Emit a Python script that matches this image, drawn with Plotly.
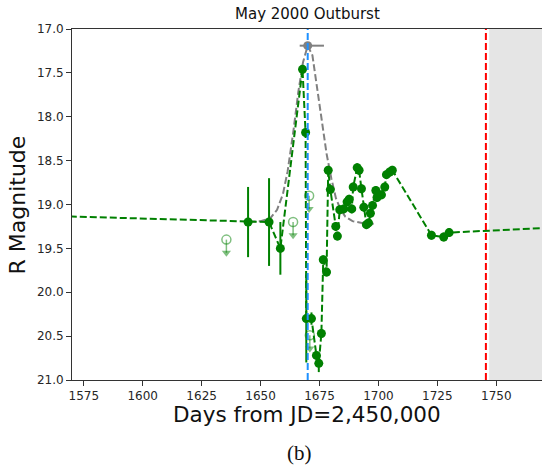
import plotly.graph_objects as go

# ---- data ----
obs_days = [1480.0, 1644.7, 1653.6, 1658.4, 1667.8, 1669.1, 1669.4, 1671.6, 1673.7, 1674.7,
            1675.8, 1676.6, 1678.0, 1678.7, 1679.6, 1681.9, 1682.6, 1683.6, 1685.3, 1686.7,
            1687.6, 1688.7, 1689.3, 1691.0, 1691.8, 1692.8, 1693.8, 1694.9, 1695.8, 1696.6,
            1697.5, 1698.9, 1699.4, 1701.3, 1702.7, 1703.4, 1704.8, 1705.9, 1722.5, 1727.7,
            1730.0, 1800.0]
obs_mags = [19.07, 19.20, 19.20, 19.50, 17.46, 18.18, 20.30, 20.30, 20.72, 20.81,
            20.47, 19.63, 19.77, 18.61, 18.83, 19.25, 19.36, 19.06, 19.05, 18.97,
            18.94, 19.05, 18.80, 18.58, 18.61, 18.82, 19.03, 19.23, 19.21, 19.10,
            19.01, 18.84, 18.92, 18.89, 18.80, 18.66, 18.63, 18.61, 19.35, 19.37,
            19.32, 19.23]
obs_errs = [0.05, 0.40, 0.50, 0.30, 0.05, 0.05, 0.50, 0.07, 0.05, 0.10,
            0.05, 0.05, 0.05, 0.05, 0.05, 0.05, 0.05, 0.05, 0.05, 0.05,
            0.05, 0.05, 0.05, 0.05, 0.05, 0.05, 0.05, 0.05, 0.05, 0.05,
            0.05, 0.05, 0.05, 0.05, 0.05, 0.05, 0.05, 0.05, 0.05, 0.05,
            0.05, 0.05]

ul_days = [1635.5, 1663.8, 1670.6, 1670.9]
ul_mags = [19.40, 19.20, 18.90, 20.49]

model_days = [1645.0, 1650.0, 1654.0, 1657.0, 1659.5, 1661.5, 1664.0, 1666.0, 1668.0, 1670.0,
              1672.0, 1674.0, 1676.0, 1678.0, 1680.0, 1682.0, 1684.0, 1686.0, 1689.0, 1693.0,
              1698.0]
model_mags = [19.20, 19.19, 19.16, 19.06, 18.88, 18.62, 18.15, 17.72, 17.38, 17.19,
              17.30, 17.68, 18.08, 18.42, 18.70, 18.93, 19.06, 19.14, 19.19, 19.21,
              19.22]

peak_day = [1670.0]
peak_mag = [17.19]
peak_err_minus = [3.4]
peak_err_plus = [6.9]

outburst_day = 1670.0
limit_day = 1745.6
shade_start = 1747.0

x_ticks = [1575, 1600, 1625, 1650, 1675, 1700, 1725, 1750]
y_ticks = [17.0, 17.5, 18.0, 18.5, 19.0, 19.5, 20.0, 20.5, 21.0]

ARROW = 0.15
GREEN = "#008000"
LGREEN = "rgba(0,128,0,0.5)"

fig = go.Figure()

# model curve
fig.add_trace(go.Scatter(x=model_days, y=model_mags, mode="lines",
                         line=dict(color="#808080", width=2, dash="7px,3px"),
                         showlegend=False, hoverinfo="skip"))

# observations
fig.add_trace(go.Scatter(x=obs_days, y=obs_mags, mode="lines+markers",
                         line=dict(color=GREEN, width=2, dash="7px,3px"),
                         marker=dict(color=GREEN, size=9),
                         error_y=dict(type="data", array=obs_errs, color=GREEN,
                                      thickness=2, width=0),
                         showlegend=False))

# upper limits
fig.add_trace(go.Scatter(x=ul_days, y=ul_mags, mode="markers",
                         marker=dict(symbol="circle-open", color=LGREEN, size=9,
                                     line=dict(width=1.5)),
                         error_y=dict(type="data", array=[ARROW] * len(ul_days),
                                      arrayminus=[0] * len(ul_days), color=LGREEN,
                                      thickness=1.5, width=0),
                         showlegend=False))
fig.add_trace(go.Scatter(x=ul_days, y=[m + ARROW for m in ul_mags], mode="markers",
                         marker=dict(symbol="triangle-down", color=LGREEN, size=8),
                         showlegend=False))

# peak
fig.add_trace(go.Scatter(x=peak_day, y=peak_mag, mode="markers",
                         marker=dict(color="#808080", size=9),
                         error_x=dict(type="data", array=peak_err_plus,
                                      arrayminus=peak_err_minus, color="#808080",
                                      thickness=2, width=0),
                         showlegend=False))

fig.add_shape(type="rect", xref="x", yref="paper", x0=shade_start, x1=1800,
              y0=0, y1=1, fillcolor="#e5e5e5", line=dict(width=0), layer="below")
fig.add_shape(type="line", xref="x", yref="paper", x0=outburst_day, x1=outburst_day,
              y0=0, y1=1, line=dict(color="#1E90FF", width=2, dash="7px,3px"))
fig.add_shape(type="line", xref="x", yref="paper", x0=limit_day, x1=limit_day,
              y0=0, y1=1, line=dict(color="red", width=2, dash="7px,3px"))

font = "DejaVu Sans"
fig.update_layout(
    width=542, height=468,
    margin=dict(l=72, r=0, t=29, b=88),
    paper_bgcolor="white", plot_bgcolor="white",
    font=dict(family=font, size=12, color="#262626"),
    xaxis=dict(range=[1570, 1769.4], tickvals=x_ticks, ticks="outside", ticklen=5,
               tickcolor="#333", showline=True, linecolor="#333", linewidth=1,
               mirror=True, showgrid=False, zeroline=False,
               tickfont=dict(family=font, size=12, color="#262626")),
    yaxis=dict(range=[21, 17], tickvals=y_ticks, tickformat=".1f", ticks="outside",
               ticklen=5, tickcolor="#333", showline=True, linecolor="#333",
               linewidth=1, mirror=False, showgrid=False, zeroline=False,
               tickfont=dict(family=font, size=12, color="#262626")),
    annotations=[
        dict(text="May 2000 Outburst", xref="paper", yref="paper", x=0.502, y=1.0427,
             xanchor="center", yanchor="middle", showarrow=False,
             font=dict(family=font, size=15, color="#111")),
        dict(text="Days from JD=2,450,000", xref="paper", yref="paper", x=0.501,
             y=-0.097, xanchor="center", yanchor="middle", showarrow=False,
             font=dict(family=font, size=21.5, color="#111")),
        dict(text="R Magnitude", xref="paper", yref="paper", x=-0.1149, y=0.5,
             xanchor="center", yanchor="middle", textangle=-90, showarrow=False,
             font=dict(family=font, size=22, color="#111")),
        dict(text="(b)", xref="paper", yref="paper", x=0.485, y=-0.207,
             xanchor="center", yanchor="middle", showarrow=False,
             font=dict(family="Liberation Serif", size=21, color="#111")),
    ],
)

fig.write_html("out.html")
